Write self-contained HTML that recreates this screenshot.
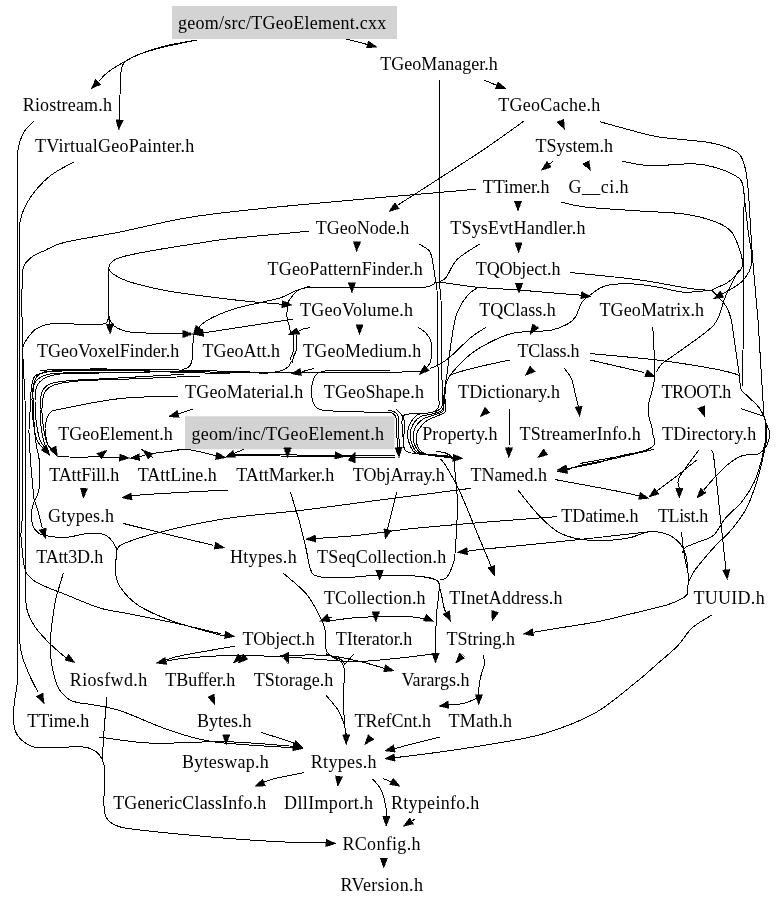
<!DOCTYPE html><html><head><meta charset="utf-8"><style>html,body{margin:0;padding:0;background:#fff;}svg{display:block;filter:grayscale(1);}text{font-family:"Liberation Serif",serif;font-size:18px;fill:#000;}</style></head><body>
<svg width="779" height="907" viewBox="0 0 779 907">
<rect x="172" y="6" width="225" height="33" fill="#d3d3d3"/>
<rect x="185" y="416.25" width="209.5" height="33" fill="#d3d3d3"/>
<g fill="none" stroke="#000" stroke-width="1" shape-rendering="crispEdges"><path d="M197,40 C191.67,41.00 174.50,43.67 165,46 C155.50,48.33 146.83,51.33 140,54 C133.17,56.67 129.33,59.00 124,62 C118.67,65.00 112.17,68.83 108,72 C103.83,75.17 100.50,79.50 99,81"/><path d="M197,40 C190.83,41.33 170.33,45.33 160,48 C149.67,50.67 141.00,53.50 135,56 C129.00,58.50 126.33,60.33 124,63 C121.67,65.67 121.67,66.67 121,72 C120.33,77.33 120.25,87.00 120,95 C119.75,103.00 119.58,115.83 119.5,120"/><path d="M346,39 L367.5,44.5"/><path d="M484,80 L495.7,84.9"/><path d="M524,121 C516.67,126.17 501.00,138.00 480,152 C459.00,166.00 411.67,196.17 398,205"/><path d="M439.3,80 L439.3,282"/><path d="M553,161.5 L549.4,164"/><path d="M475.5,189.3 C446.25,191.88 346.75,200.27 300,204.8 C253.25,209.33 225.00,211.97 195,216.5 C165.00,221.03 141.75,227.68 120,232 C98.25,236.32 77.18,239.25 64.5,242.4 C51.82,245.55 49.37,248.47 43.9,250.9 C38.43,253.33 35.15,254.17 31.7,257 C28.25,259.83 24.82,262.40 23.2,267.9 C21.58,273.40 22.18,279.65 22,290 C21.82,300.35 22.05,319.17 22.1,330 C22.15,340.83 22.23,343.33 22.3,355 C22.37,366.67 22.45,385.83 22.5,400 C22.55,414.17 22.55,426.67 22.6,440 C22.65,453.33 22.80,468.33 22.8,480 C22.80,491.67 22.82,502.00 22.6,510 C22.38,518.00 21.80,523.83 21.5,528 C21.20,532.17 20.92,533.83 20.8,535"/><path d="M561,202 C565.00,202.83 571.83,205.50 585,207 C598.17,208.50 623.50,209.83 640,211 C656.50,212.17 671.33,212.17 684,214 C696.67,215.83 708.00,218.92 716,222 C724.00,225.08 727.90,227.33 732,232.5 C736.10,237.67 738.85,247.42 740.6,253 C742.35,258.58 743.13,262.50 742.5,266 C741.87,269.50 739.15,271.33 736.8,274 C734.45,276.67 732.45,279.40 728.4,282 C724.35,284.60 715.15,288.33 712.5,289.6"/><path d="M600,121.75 C605.00,123.12 620.17,127.46 630,130 C639.83,132.54 645.83,134.92 659,137 C672.17,139.08 696.67,140.33 709,142.5 C721.33,144.67 727.42,147.18 733,150 C738.58,152.82 740.05,153.73 742.5,159.4 C744.95,165.07 746.12,168.90 747.7,184 C749.28,199.10 750.28,227.33 752,250 C753.72,272.67 757.00,308.33 758,320"/><path d="M622,161.25 C626.67,162.00 639.60,165.29 650,165.75 C660.40,166.21 675.23,164.12 684.4,164 C693.57,163.88 696.90,163.27 705,165 C713.10,166.73 726.60,170.65 733,174.4 C739.40,178.15 741.63,178.23 743.4,187.5 C745.17,196.77 743.53,207.92 743.6,230 C743.67,252.08 743.77,305.00 743.8,320"/><path d="M743.4,187.5 C744.17,194.58 746.60,217.58 748,230 C749.40,242.42 752.72,253.50 751.8,262 C750.88,270.50 747.50,275.62 742.5,281 C737.50,286.38 725.25,292.08 721.8,294.3"/><path d="M34,121 C32.33,122.83 26.67,127.17 24,132 C21.33,136.83 19.08,142.83 18,150 C16.92,157.17 17.58,150.00 17.5,175 C17.42,200.00 17.50,279.17 17.5,300"/><path d="M74,162 C70.00,164.33 57.33,170.00 50,176 C42.67,182.00 35.00,190.33 30,198 C25.00,205.67 21.79,211.67 20,222 C18.21,232.33 19.38,247.00 19.25,260 C19.12,273.00 19.25,293.33 19.25,300"/><path d="M308.75,231.25 C295.62,232.49 248.96,236.62 230,238.7 C211.04,240.78 208.33,241.70 195,243.75 C181.67,245.80 162.50,248.71 150,251 C137.50,253.29 126.50,255.50 120,257.5 C113.50,259.50 112.85,261.17 111,263 C109.15,264.83 108.57,266.67 108.9,268.5 C109.23,270.33 109.48,271.75 113,274 C116.52,276.25 120.50,279.12 130,282 C139.50,284.88 153.33,288.40 170,291.3 C186.67,294.20 214.67,297.52 230,299.4 C245.33,301.28 253.17,301.78 262,302.6 C270.83,303.42 279.50,304.02 283,304.3"/><path d="M108.9,268.5 C108.80,272.08 108.40,282.75 108.3,290 C108.20,297.25 108.10,306.33 108.3,312 C108.50,317.67 109.30,322.00 109.5,324"/><path d="M108.5,314 C108.92,315.33 109.58,319.67 111,322 C112.42,324.33 113.83,326.33 117,328 C120.17,329.67 122.83,331.08 130,332 C137.17,332.92 151.00,333.17 160,333.5 C169.00,333.83 180.00,333.92 184,334"/><path d="M108.6,316 C108.17,317.17 108.27,321.57 106,323 C103.73,324.43 101.83,324.48 95,324.6 C88.17,324.72 72.32,323.85 65,323.7 C57.68,323.55 55.83,322.88 51.1,323.7 C46.37,324.52 40.42,326.33 36.6,328.6 C32.78,330.87 30.42,334.43 28.2,337.3 C25.98,340.17 24.18,343.02 23.3,345.8 C22.42,348.58 22.87,349.97 22.9,354 C22.93,358.03 23.15,362.33 23.5,370 C23.85,377.67 24.67,388.33 25,400 C25.33,411.67 25.38,426.67 25.5,440 C25.62,453.33 25.67,463.33 25.7,480 C25.73,496.67 25.68,525.00 25.7,540 C25.72,555.00 25.80,560.00 25.8,570 C25.80,580.00 25.38,592.95 25.7,600 C26.02,607.05 26.17,607.85 27.7,612.3 C29.23,616.75 31.30,621.57 34.9,626.7 C38.50,631.83 44.12,637.88 49.3,643.1 C54.48,648.32 63.22,655.52 66,658"/><path d="M419.3,244.1 C421.00,245.28 427.27,248.22 429.5,251.2 C431.73,254.18 431.73,257.37 432.7,262 C433.67,266.63 434.58,274.33 435.3,279 C436.02,283.67 436.65,279.83 437,290 C437.35,300.17 437.25,328.33 437.4,340 C437.55,351.67 437.72,350.83 437.9,360 C438.08,369.17 438.40,389.17 438.5,395"/><path d="M479.6,244.1 C475.85,246.67 462.67,253.93 457.1,259.5 C451.53,265.07 449.05,273.58 446.2,277.5 C443.35,281.42 440.87,279.25 440,283 C439.13,286.75 440.72,290.50 441,300 C441.28,309.50 441.53,326.67 441.7,340 C441.87,353.33 441.87,370.33 442,380 C442.13,389.67 442.42,395.00 442.5,398"/><path d="M306,287 C315.00,287.13 341.00,287.70 360,287.8 C379.00,287.90 407.83,288.15 420,287.6 C432.17,287.05 429.77,285.38 433,284.5 C436.23,283.62 432.07,281.85 439.4,282.3 C446.73,282.75 463.90,285.92 477,287.2 C490.10,288.48 504.17,288.95 518,290 C531.83,291.05 549.50,292.63 560,293.5 C570.50,294.37 577.50,294.92 581,295.2"/><path d="M310,286.5 C307.57,287.25 300.23,289.15 295.4,291 C290.57,292.85 286.57,295.73 281,297.6 C275.43,299.47 270.02,300.25 262,302.2 C253.98,304.15 242.23,306.17 232.9,309.3 C223.57,312.43 212.15,317.38 206,321 C199.85,324.62 197.67,329.33 196,331"/><path d="M308,286.6 C306.27,287.25 300.27,288.85 297.6,290.5 C294.93,292.15 293.67,294.38 292,296.5 C290.33,298.62 288.42,300.95 287.6,303.2 C286.78,305.45 287.18,307.43 287.1,310 C287.02,312.57 286.73,315.88 287.1,318.6 C287.47,321.32 288.75,323.90 289.3,326.3 C289.85,328.70 290.22,331.88 290.4,333"/><path d="M292.6,319.2 L200,333.4"/><path d="M293.5,335 C293.52,337.50 294.02,346.33 293.6,350 C293.18,353.67 291.47,354.88 291,357 C290.53,359.12 291.55,360.83 290.8,362.7 C290.05,364.57 288.50,366.73 286.5,368.2 C284.50,369.67 281.88,370.77 278.8,371.5 C275.72,372.23 269.80,372.42 268,372.6"/><path d="M296.3,335 C296.28,337.50 296.68,346.33 296.2,350 C295.72,353.67 294.02,354.83 293.4,357 C292.78,359.17 292.65,362.00 292.5,363"/><path d="M299.2,330.8 C300.00,330.47 302.12,329.35 304,328.8 C305.88,328.25 309.42,327.72 310.5,327.5"/><path d="M418.4,327.5 C419.58,328.35 423.45,330.38 425.5,332.6 C427.55,334.82 429.67,337.73 430.7,340.8 C431.73,343.87 431.70,347.63 431.7,351 C431.70,354.37 431.40,358.33 430.7,361 C430.00,363.67 428.03,366.00 427.5,367"/><path d="M486.2,327.2 C483.63,328.92 476.45,332.87 470.8,337.5 C465.15,342.13 457.43,350.55 452.3,355 C447.17,359.45 443.77,361.95 440,364.2 C436.23,366.45 431.42,367.78 429.7,368.5"/><path d="M268,372.6 C271.67,372.50 276.07,372.00 290,372 C303.93,372.00 331.07,372.63 351.6,372.6 C372.13,372.57 401.63,372.07 413.2,371.8 C424.77,371.53 419.70,371.13 421,371"/><path d="M40,370.2 C48.33,370.00 71.67,369.12 90,369 C108.33,368.88 131.67,369.25 150,369.5 C168.33,369.75 180.33,369.98 200,370.5 C219.67,371.02 256.67,372.25 268,372.6"/><path d="M44,371.5 C51.67,371.33 72.33,370.58 90,370.5 C107.67,370.42 131.67,370.78 150,371 C168.33,371.22 180.33,371.43 200,371.8 C219.67,372.17 256.67,372.97 268,373.2"/><path d="M313.6,368.5 L302.3,371.6"/><path d="M390,370 C381.67,370.03 350.83,370.03 340,370.2 C329.17,370.37 328.88,370.37 325,371 C321.12,371.63 318.77,372.17 316.7,374 C314.63,375.83 313.45,379.00 312.6,382 C311.75,385.00 311.53,388.67 311.6,392 C311.67,395.33 311.60,399.08 313,402 C314.40,404.92 314.67,407.92 320,409.5 C325.33,411.08 333.33,411.00 345,411.5 C356.67,412.00 382.50,412.33 390,412.5"/><path d="M478,287.2 C476.12,288.73 470.30,291.77 466.7,296.4 C463.10,301.03 458.97,307.47 456.4,315 C453.83,322.53 452.83,332.03 451.3,341.6 C449.77,351.17 448.23,364.87 447.2,372.4 C446.17,379.93 445.62,381.67 445.1,386.8 C444.58,391.93 444.27,400.47 444.1,403.2"/><path d="M509.8,360 C505.00,361.05 490.23,364.05 481,366.3 C471.77,368.55 459.87,371.45 454.4,373.5 C448.93,375.55 449.75,376.38 448.2,378.6 C446.65,380.82 445.88,383.23 445.1,386.8 C444.32,390.37 443.77,397.80 443.5,400"/><path d="M712,290 C707.33,290.37 692.67,292.62 684,292.2 C675.33,291.78 668.33,288.87 660,287.5 C651.67,286.13 642.92,284.33 634,284 C625.08,283.67 613.83,283.67 606.5,285.5 C599.17,287.33 594.13,292.15 590,295 C585.87,297.85 584.12,298.93 581.7,302.6 C579.28,306.27 577.90,313.40 575.5,317 C573.10,320.60 571.38,321.98 567.3,324.2 C563.22,326.42 556.47,329.12 551,330.3 C545.53,331.48 541.02,330.78 534.5,331.3 C527.98,331.82 519.10,331.68 511.9,333.4 C504.70,335.12 498.15,338.17 491.3,341.6 C484.45,345.03 477.30,348.87 470.8,354 C464.30,359.13 456.40,367.62 452.3,372.4 C448.20,377.18 447.45,378.43 446.2,382.7 C444.95,386.97 445.03,395.45 444.8,398"/><path d="M570,272.5 C572.50,272.75 573.33,272.75 585,274 C596.67,275.25 622.50,277.58 640,280 C657.50,282.42 678.00,286.75 690,288.5 C702.00,290.25 708.33,290.17 712,290.5"/><path d="M564.3,368.3 C565.48,370.02 569.53,374.15 571.4,378.6 C573.27,383.05 574.33,390.27 575.5,395 C576.67,399.73 577.92,405.00 578.4,407"/><path d="M509.4,409.4 L509,448"/><path d="M590.2,353.6 C601.27,354.67 637.02,357.65 656.6,360 C676.18,362.35 694.50,365.35 707.7,367.7 C720.90,370.05 730.48,372.18 735.8,374.1 C741.12,376.02 738.73,376.65 739.6,379.2 C740.47,381.75 739.50,386.43 741,389.4 C742.50,392.37 745.63,394.02 748.6,397 C751.57,399.98 756.25,404.10 758.8,407.3 C761.35,410.50 763.05,414.72 763.9,416.2"/><path d="M590.2,360 L643.9,372.4"/><path d="M738.7,270 C736.52,274.37 729.05,288.20 725.6,296.2 C722.15,304.20 720.98,312.25 718,318 C715.02,323.75 714.95,324.55 707.7,330.7 C700.45,336.85 682.17,349.37 674.5,354.9 C666.83,360.43 664.70,361.05 661.7,363.9 C658.70,366.75 657.37,370.65 656.5,372"/><path d="M712,290.5 C714.27,293.00 722.40,300.58 725.6,305.5 C728.80,310.42 729.50,312.42 731.2,320 C732.90,327.58 734.40,341.57 735.8,351 C737.20,360.43 738.97,372.33 739.6,376.6"/><path d="M652.8,326.8 C653.10,335.10 655.23,364.03 654.6,376.6 C653.97,389.17 650.02,395.80 649,402.2 C647.98,408.60 647.87,409.90 648.5,415 C649.13,420.10 652.93,427.07 652.8,432.8 C652.67,438.53 659.83,444.28 647.7,449.4 C635.57,454.52 591.28,461.15 580,463.5"/><path d="M740.9,408.6 L763.9,416.2"/><path d="M743.8,320 L742,386.8"/><path d="M758,320 L763.9,415"/><path d="M764.2,416.5 C764.57,417.75 765.48,421.27 766.4,424 C767.32,426.73 769.52,429.58 769.7,432.9 C769.88,436.22 768.42,441.33 767.5,443.9 C766.58,446.47 764.75,447.57 764.2,448.3"/><path d="M764.2,416.5 C764.43,417.75 765.40,419.98 765.6,424 C765.80,428.02 765.75,436.27 765.4,440.6 C765.05,444.93 763.82,448.43 763.5,450"/><path d="M193.5,336 C193.33,338.33 192.80,345.67 192.5,350 C192.20,354.33 192.45,359.08 191.7,362 C190.95,364.92 189.62,366.25 188,367.5 C186.38,368.75 183.00,369.17 182,369.5"/><path d="M184,374.3 C171.17,375.02 126.25,377.53 107,378.6 C87.75,379.67 78.00,379.80 68.5,380.7 C59.00,381.60 54.42,382.12 50,384 C45.58,385.88 43.67,387.67 42,392 C40.33,396.33 40.08,403.67 40,410 C39.92,416.33 40.67,424.17 41.5,430 C42.33,435.83 43.75,441.50 45,445 C46.25,448.50 48.33,450.00 49,451"/><path d="M200,376 C186.65,376.57 139.68,378.62 119.9,379.4 C100.12,380.18 92.00,379.85 81.3,380.7 C70.60,381.55 61.75,382.62 55.7,384.5 C49.65,386.38 47.28,388.08 45,392 C42.72,395.92 42.25,402.00 42,408 C41.75,414.00 42.67,422.17 43.5,428 C44.33,433.83 45.58,439.33 47,443 C48.42,446.67 51.17,448.83 52,450"/><path d="M230,373.5 C222.33,373.33 204.50,373.12 184,372.5 C163.50,371.88 127.55,370.18 107,369.8 C86.45,369.42 71.37,369.72 60.7,370.2 C50.03,370.68 47.33,371.65 43,372.7 C38.67,373.75 36.62,374.17 34.7,376.5 C32.78,378.83 32.20,381.95 31.5,386.7 C30.80,391.45 30.92,397.78 30.5,405 C30.08,412.22 29.08,422.00 29,430 C28.92,438.00 29.62,446.33 30,453 C30.38,459.67 30.83,464.42 31.3,470 C31.77,475.58 32.35,481.68 32.8,486.5 C33.25,491.32 33.12,494.77 34,498.9 C34.88,503.03 36.72,506.47 38.1,511.3 C39.48,516.13 41.60,525.13 42.3,527.9"/><path d="M150,371 C140.00,370.92 105.83,370.50 90,370.5 C74.17,370.50 63.33,370.42 55,371 C46.67,371.58 43.33,372.50 40,374 C36.67,375.50 36.17,377.00 35,380 C33.83,383.00 33.25,387.00 33,392 C32.75,397.00 33.25,403.67 33.5,410 C33.75,416.33 34.00,423.92 34.5,430 C35.00,436.08 35.85,442.33 36.5,446.5 C37.15,450.67 37.92,452.25 38.4,455 C38.88,457.75 39.23,457.83 39.4,463 C39.57,468.17 39.75,480.67 39.4,486 C39.05,491.33 38.37,491.83 37.3,495 C36.23,498.17 34.03,501.58 33,505 C31.97,508.42 31.07,511.97 31.1,515.5 C31.13,519.03 32.03,523.32 33.2,526.2 C34.37,529.08 36.32,531.28 38.1,532.8 C39.88,534.32 39.42,534.52 43.9,535.3 C48.38,536.08 57.60,537.83 65,537.5 C72.40,537.17 81.92,533.85 88.3,533.3 C94.68,532.75 99.63,533.28 103.3,534.2 C106.97,535.12 108.28,536.75 110.3,538.8 C112.32,540.85 114.33,544.37 115.4,546.5 C116.47,548.63 116.70,547.32 116.7,551.6 C116.70,555.88 114.77,566.20 115.4,572.2 C116.03,578.20 116.65,582.05 120.5,587.6 C124.35,593.15 129.93,599.95 138.5,605.5 C147.07,611.05 159.07,616.18 171.9,620.9 C184.73,625.62 206.65,631.37 215.5,633.8 C224.35,636.23 223.42,635.22 225,635.5"/><path d="M150,372 C138.33,372.08 96.67,372.17 80,372.5 C63.33,372.83 57.00,372.92 50,374 C43.00,375.08 40.83,376.67 38,379 C35.17,381.33 34.00,384.50 33,388 C32.00,391.50 32.00,394.67 32,400 C32.00,405.33 32.17,413.33 33,420 C33.83,426.67 35.17,435.17 37,440 C38.83,444.83 42.83,447.50 44,449"/><path d="M100,373 C93.33,373.17 69.17,373.17 60,374 C50.83,374.83 48.83,376.00 45,378 C41.17,380.00 38.67,382.33 37,386 C35.33,389.67 35.17,394.33 35,400 C34.83,405.67 35.17,413.33 36,420 C36.83,426.67 38.33,435.17 40,440 C41.67,444.83 45.00,447.50 46,449"/><path d="M177.6,396.1 C167.98,396.52 139.37,396.45 119.9,398.6 C100.43,400.75 72.45,406.60 60.8,409 C49.15,411.40 52.57,410.50 50,413 C47.43,415.50 46.17,420.50 45.4,424 C44.63,427.50 44.97,430.52 45.4,434 C45.83,437.48 46.73,442.07 48,444.9 C49.27,447.73 52.17,449.98 53,451"/><path d="M193,409 L176,414.6"/><path d="M58,456 C59.80,456.17 61.92,456.83 68.8,457 C75.68,457.17 90.77,456.92 99.3,457 C107.83,457.08 116.55,457.42 120,457.5"/><path d="M185.4,449.2 C181.17,449.75 166.27,451.65 160,452.5 C153.73,453.35 151.33,453.55 147.8,454.3 C144.27,455.05 140.30,456.55 138.8,457"/><path d="M141,449 C142.00,449.67 145.00,451.50 147,453 C149.00,454.50 152.00,457.17 153,458"/><path d="M170,451.3 C172.57,450.95 179.57,448.92 185.4,449.2 C191.23,449.48 199.73,451.87 205,453 C210.27,454.13 215.00,455.50 217,456"/><path d="M244,449.2 L233.7,453.5"/><path d="M231.6,454.4 C239.67,454.47 263.60,454.63 280,454.8 C296.40,454.97 317.50,455.28 330,455.4 C342.50,455.52 344.17,455.40 355,455.5 C365.83,455.60 388.33,455.92 395,456"/><path d="M231.6,455.6 C239.67,455.67 263.60,455.80 280,456 C296.40,456.20 317.50,456.63 330,456.8 C342.50,456.97 344.17,456.93 355,457 C365.83,457.07 388.33,457.17 395,457.2"/><path d="M390,412.5 C390.20,412.52 390.32,412.07 391.2,412.6 C392.08,413.13 394.45,414.33 395.3,415.7 C396.15,417.07 396.05,418.25 396.3,420.8 C396.55,423.35 396.63,426.47 396.8,431 C396.97,435.53 397.22,445.17 397.3,448"/><path d="M388,410.5 C388.83,410.62 391.42,410.50 393,411.2 C394.58,411.90 396.58,413.10 397.5,414.7 C398.42,416.30 398.28,418.08 398.5,420.8 C398.72,423.52 398.67,426.47 398.8,431 C398.93,435.53 399.22,445.17 399.3,448"/><path d="M396.3,409 C397.15,409.93 400.12,412.77 401.4,414.6 C402.68,416.43 403.48,417.77 404,420 C404.52,422.23 404.58,424.83 404.5,428 C404.42,431.17 403.75,435.58 403.5,439 C403.25,442.42 403.08,446.92 403,448.5"/><path d="M438.5,395 C438.58,396.67 439.42,402.42 439,405 C438.58,407.58 437.30,409.23 436,410.5 C434.70,411.77 434.05,412.08 431.2,412.6 C428.35,413.12 422.83,413.35 418.9,413.6 C414.97,413.85 410.17,413.75 407.6,414.1 C405.03,414.45 404.43,414.58 403.5,415.7 C402.57,416.82 402.17,418.25 402,420.8 C401.83,423.35 402.25,427.58 402.5,431 C402.75,434.42 403.17,438.30 403.5,441.3 C403.83,444.30 403.75,447.22 404.5,449 C405.25,450.78 406.12,451.22 408,452 C409.88,452.78 411.93,453.25 415.8,453.7 C419.67,454.15 426.07,454.37 431.2,454.7 C436.33,455.03 442.97,455.23 446.6,455.7 C450.23,456.17 451.93,457.20 453,457.5"/><path d="M442.5,398 C442.42,399.33 442.75,403.92 442,406 C441.25,408.08 440.33,409.33 438,410.5 C435.67,411.67 431.35,412.32 428,413 C424.65,413.68 420.62,413.30 417.9,414.6 C415.18,415.90 413.33,418.40 411.7,420.8 C410.07,423.20 408.78,426.43 408.1,429 C407.42,431.57 407.35,433.63 407.6,436.2 C407.85,438.77 408.58,441.83 409.6,444.4 C410.62,446.97 411.97,450.00 413.7,451.6 C415.43,453.20 415.62,453.35 420,454 C424.38,454.65 434.50,454.90 440,455.5 C445.50,456.10 450.83,457.25 453,457.6"/><path d="M444.1,403.2 C443.92,404.00 443.68,406.62 443,408 C442.32,409.38 442.17,410.42 440,411.5 C437.83,412.58 433.17,413.67 430,414.5 C426.83,415.33 423.58,415.25 421,416.5 C418.42,417.75 416.20,419.75 414.5,422 C412.80,424.25 411.50,427.50 410.8,430 C410.10,432.50 410.05,434.50 410.3,437 C410.55,439.50 411.27,442.53 412.3,445 C413.33,447.47 414.38,450.25 416.5,451.8 C418.62,453.35 421.08,453.60 425,454.3 C428.92,455.00 435.33,455.38 440,456 C444.67,456.62 450.83,457.67 453,458"/><path d="M443.5,400 C443.58,401.33 444.25,406.00 444,408 C443.75,410.00 443.83,410.75 442,412 C440.17,413.25 436.00,414.42 433,415.5 C430.00,416.58 426.58,417.08 424,418.5 C421.42,419.92 419.25,421.75 417.5,424 C415.75,426.25 414.20,429.50 413.5,432 C412.80,434.50 413.02,436.67 413.3,439 C413.58,441.33 414.17,443.83 415.2,446 C416.23,448.17 417.37,450.50 419.5,452 C421.63,453.50 423.75,454.20 428,455 C432.25,455.80 440.83,456.27 445,456.8 C449.17,457.33 451.67,457.97 453,458.2"/><path d="M444.8,398 C445.00,399.67 446.05,405.58 446,408 C445.95,410.42 446.17,411.08 444.5,412.5 C442.83,413.92 438.92,415.17 436,416.5 C433.08,417.83 429.58,418.75 427,420.5 C424.42,422.25 422.25,424.75 420.5,427 C418.75,429.25 417.20,431.67 416.5,434 C415.80,436.33 416.02,438.75 416.3,441 C416.58,443.25 417.17,445.58 418.2,447.5 C419.23,449.42 420.20,451.17 422.5,452.5 C424.80,453.83 427.75,454.67 432,455.5 C436.25,456.33 444.50,457.03 448,457.5 C451.50,457.97 452.17,458.17 453,458.3"/><path d="M436.3,451.6 C437.67,451.77 441.88,451.78 444.5,452.6 C447.12,453.42 450.75,455.85 452,456.5"/><path d="M440.4,458.8 C441.33,460.00 442.73,460.47 446,466 C449.27,471.53 454.67,480.50 460,492 C465.33,503.50 472.83,522.67 478,535 C483.17,547.33 488.83,560.83 491,566"/><path d="M454.8,459.8 L454.8,470"/><path d="M17.5,300 C17.50,333.33 17.50,440.00 17.5,500 C17.50,560.00 17.53,629.67 17.5,660 C17.47,690.33 17.82,674.88 17.3,682 C16.78,689.12 15.07,696.53 14.4,702.7 C13.73,708.87 12.97,713.87 13.3,719 C13.63,724.13 14.17,729.37 16.4,733.5 C18.63,737.63 22.60,741.40 26.7,743.8 C30.80,746.20 31.75,747.38 41,747.9 C50.25,748.42 72.95,746.22 82.2,746.9 C91.45,747.58 93.15,749.82 96.5,752 C99.85,754.18 100.93,757.00 102.3,760 C103.67,763.00 104.33,765.00 104.7,770 C105.07,775.00 104.63,784.97 104.5,790 C104.37,795.03 103.75,795.93 103.9,800.2 C104.05,804.47 103.62,811.50 105.4,815.6 C107.18,819.70 109.47,822.48 114.6,824.8 C119.73,827.12 119.77,827.43 136.2,829.5 C152.63,831.57 189.23,835.15 213.2,837.2 C237.17,839.25 261.20,840.83 280,841.8 C298.80,842.77 318.33,842.80 326,843"/><path d="M19.25,300 C19.26,333.33 19.28,446.67 19.3,500 C19.32,553.33 19.35,596.50 19.4,620 C19.45,643.50 19.07,634.75 19.6,641 C20.13,647.25 20.73,651.33 22.6,657.5 C24.47,663.67 28.23,672.25 30.8,678 C33.37,683.75 36.80,689.67 38,692"/><path d="M20.8,535 C21.22,539.17 22.32,553.62 23.3,560 C24.28,566.38 24.20,569.42 26.7,573.3 C29.20,577.18 31.63,579.68 38.3,583.3 C44.97,586.92 56.42,590.87 66.7,595 C76.98,599.13 90.17,605.07 100,608.1 C109.83,611.13 112.87,610.63 125.7,613.2 C138.53,615.77 161.17,620.07 177,623.5 C192.83,626.93 213.42,632.08 220.7,633.8"/><path d="M465,489 C464.77,489.05 477.77,487.47 463.6,489.3 C449.43,491.13 407.27,496.47 380,500 C352.73,503.53 325.27,507.47 300,510.5 C274.73,513.53 251.03,514.77 228.4,518.2 C205.77,521.63 181.75,526.82 164.2,531.1 C146.65,535.38 131.02,540.48 123.1,543.9 C115.18,547.32 117.77,550.32 116.7,551.6"/><path d="M228.4,490 C220.33,490.42 194.98,491.65 180,492.5 C165.02,493.35 146.67,494.43 138.5,495.1 C130.33,495.77 132.25,496.27 131,496.5"/><path d="M123.1,523.4 C129.95,525.10 149.22,529.97 164.2,533.6 C179.18,537.23 204.87,543.27 213,545.2"/><path d="M63.3,573.3 C62.47,576.08 59.60,585.55 58.3,590 C57.00,594.45 56.48,594.92 55.5,600 C54.52,605.08 53.27,613.67 52.4,620.5 C51.53,627.33 50.48,634.15 50.3,641 C50.12,647.85 50.10,654.05 51.3,661.6 C52.50,669.15 54.75,680.13 57.5,686.3 C60.25,692.47 64.38,695.87 67.8,698.6 C71.22,701.33 73.90,701.68 78,702.7 C82.10,703.72 85.27,703.33 92.4,704.7 C99.53,706.07 108.37,706.80 120.8,710.9 C133.23,715.00 151.60,724.17 167,729.3 C182.40,734.43 192.15,738.62 213.2,741.7 C234.25,744.78 279.95,746.78 293.3,747.8"/><path d="M290.3,491.8 C291.80,496.72 296.73,512.10 299.3,521.3 C301.87,530.50 303.78,538.87 305.7,547 C307.62,555.13 308.67,565.18 310.8,570.1 C312.93,575.02 312.93,575.22 318.5,576.5 C324.07,577.78 334.35,578.00 344.2,577.8 C354.05,577.60 364.77,575.52 377.6,575.3 C390.43,575.08 411.37,575.65 421.2,576.5 C431.03,577.35 433.60,578.47 436.6,580.4 C439.60,582.33 439.20,582.53 439.2,588.1 C439.20,593.67 437.20,605.15 436.6,613.8 C436.00,622.45 435.78,633.47 435.6,640 C435.42,646.53 435.52,650.83 435.5,653"/><path d="M421.2,576.5 C423.77,577.15 433.38,578.03 436.6,580.4 C439.82,582.77 439.22,586.00 440.5,590.7 C441.78,595.40 443.30,604.97 444.3,608.6 C445.30,612.23 446.13,611.85 446.5,612.5"/><path d="M454.8,470 C455.23,475.58 457.33,489.93 457.4,503.5 C457.47,517.07 455.93,541.25 455.2,551.4 C454.47,561.55 454.45,560.05 453,564.4 C451.55,568.75 448.67,574.95 446.5,577.5 C444.33,580.05 441.08,579.33 440,579.7"/><path d="M396.8,491.8 L387.2,530"/><path d="M557.5,516.6 C544.58,517.60 504.85,520.53 480,522.6 C455.15,524.67 428.90,526.85 408.4,529 C387.90,531.15 372.48,533.92 357,535.5 C341.52,537.08 322.42,538.00 315.5,538.5"/><path d="M648.9,531.8 C635.83,533.25 598.07,537.60 570.5,540.5 C542.93,543.40 500.75,547.37 483.5,549.2 C466.25,551.03 469.75,551.12 467,551.5"/><path d="M332,617 L328,618.5"/><path d="M326.2,621.5 C331.33,620.85 344.17,618.47 357,617.6 C369.83,616.73 391.65,616.08 403.2,616.3 C414.75,616.52 422.45,618.47 426.3,618.9"/><path d="M282.6,572.7 C286.45,576.12 299.72,586.35 305.7,593.2 C311.68,600.05 315.30,607.80 318.5,613.8 C321.70,619.80 323.62,623.22 324.9,629.2 C326.18,635.18 325.13,645.22 326.2,649.7 C327.27,654.18 328.83,654.05 331.3,656.1 C333.77,658.15 338.77,659.55 341,662 C343.23,664.45 344.33,665.22 344.7,670.8 C345.07,676.38 343.20,686.47 343.2,695.5 C343.20,704.53 344.23,718.42 344.7,725 C345.17,731.58 345.78,733.33 346,735"/><path d="M280,655.4 C287.70,655.40 312.85,654.37 326.2,655.4 C339.55,656.43 350.30,659.42 360.1,661.6 C369.90,663.78 380.85,667.35 385,668.5"/><path d="M434,653.9 C428.33,654.58 412.83,656.72 400,658 C387.17,659.28 370.33,661.35 357,661.6 C343.67,661.85 331.63,660.27 320,659.5 C308.37,658.73 301.92,657.68 287.2,657 C272.48,656.32 249.17,655.15 231.7,655.4 C214.23,655.65 193.52,657.48 182.4,658.5 C171.28,659.52 167.90,661.00 165,661.5"/><path d="M234.8,646.2 C226.07,647.73 193.87,653.10 182.4,655.4 C170.93,657.70 168.73,659.23 166,660"/><path d="M353.9,653.9 L344.7,664.6"/><path d="M326.2,653.9 C328.77,654.92 338.52,658.22 341.6,660 C344.68,661.78 344.18,663.83 344.7,664.6"/><path d="M555.3,479.6 C565.08,481.42 599.97,487.77 614,490.5 C628.03,493.23 635.25,495.08 639.5,496"/><path d="M654,449.4 C648.33,450.50 629.17,453.82 620,456 C610.83,458.18 608.00,460.33 599,462.5 C590.00,464.67 571.50,467.92 566,469"/><path d="M649,450.5 C642.50,452.00 621.50,457.00 610,459.5 C598.50,462.00 587.33,463.67 580,465.5 C572.67,467.33 568.33,469.67 566,470.5"/><path d="M699,450 C695.72,454.57 682.58,471.07 679.3,477.4 C676.02,483.73 679.30,486.23 679.3,488"/><path d="M696.7,460 C693.08,462.90 681.62,472.23 675,477.4 C668.38,482.57 660.00,488.73 657,491"/><path d="M763.5,450 C762.52,450.68 761.22,453.12 757.6,454.1 C753.98,455.08 746.80,454.13 741.8,455.9 C736.80,457.67 732.60,460.58 727.6,464.7 C722.60,468.82 715.82,476.30 711.8,480.6 C707.78,484.90 704.88,488.85 703.5,490.5"/><path d="M711.5,450 C711.93,451.67 712.57,448.18 714.1,460 C715.63,471.82 718.72,502.57 720.7,520.9 C722.68,539.23 725.12,561.82 726,570"/><path d="M764.7,443.5 C764.12,446.45 762.97,454.72 761.2,461.2 C759.43,467.68 757.33,475.63 754.1,482.4 C750.87,489.17 746.50,495.93 741.8,501.8 C737.10,507.67 730.62,512.02 725.9,517.6 C721.18,523.18 718.22,531.18 713.5,535.3 C708.78,539.42 702.30,540.25 697.6,542.3 C692.90,544.35 687.80,545.83 685.3,547.6 C682.80,549.37 683.05,552.02 682.6,552.9"/><path d="M766.2,424 C766.25,426.67 767.05,434.40 766.5,440 C765.95,445.60 764.38,451.13 762.9,457.6 C761.42,464.07 760.23,470.55 757.6,478.8 C754.97,487.05 751.50,498.57 747.1,507.1 C742.70,515.63 736.50,523.53 731.2,530 C725.90,536.47 721.18,539.43 715.3,545.9 C709.42,552.37 700.32,562.92 695.9,568.8 C691.48,574.68 689.98,579.13 688.8,581.2"/><path d="M518.3,490.5 C521.92,494.85 532.75,509.35 540,516.6 C547.25,523.85 553.08,530.02 561.8,534 C570.52,537.98 581.42,539.78 592.3,540.5 C603.18,541.22 617.67,539.75 627.1,538.3 C636.53,536.85 642.37,532.52 648.9,531.8 C655.43,531.08 661.23,532.18 666.3,534 C671.37,535.82 676.03,539.08 679.3,542.7 C682.57,546.32 684.45,550.63 685.9,555.7 C687.35,560.77 687.65,568.22 688,573.1 C688.35,577.98 688.13,581.48 688,585 C687.87,588.52 688.33,591.87 687.2,594.2 C686.07,596.53 684.57,597.22 681.2,599 C677.83,600.78 674.92,602.53 667,604.9 C659.08,607.27 645.18,610.42 633.7,613.2 C622.22,615.98 609.97,619.22 598.1,621.6 C586.23,623.98 573.18,625.73 562.5,627.5 C551.82,629.27 538.75,631.42 534,632.2"/><path d="M681.5,531.8 C681.87,535.07 682.62,544.52 683.7,551.4 C684.78,558.28 687.28,569.48 688,573.1"/><path d="M712,615 C708.67,617.17 697.75,622.83 692,628 C686.25,633.17 683.50,639.83 677.5,646 C671.50,652.17 662.87,659.00 656,665 C649.13,671.00 646.47,674.00 636.3,682 C626.13,690.00 610.45,704.38 595,713 C579.55,721.62 560.77,728.53 543.6,733.7 C526.43,738.87 509.27,740.95 492,744 C474.73,747.05 456.33,749.70 440,752 C423.67,754.30 401.67,756.83 394,757.8"/><path d="M483.3,655.4 C483.50,656.83 484.88,660.65 484.5,664 C484.12,667.35 481.92,671.67 481,675.5 C480.08,679.33 479.33,683.75 479,687 C478.67,690.25 479.00,693.67 479,695"/><path d="M478.7,697 C476.38,698.03 469.92,701.90 464.8,703.2 C459.68,704.50 450.80,704.53 448,704.8"/><path d="M440.2,737 C435.07,738.28 417.10,742.73 409.4,744.7 C401.70,746.67 396.57,748.12 394,748.8"/><path d="M326.2,695.5 C328.25,698.07 335.42,705.77 338.5,710.9 C341.58,716.03 343.42,722.28 344.7,726.3 C345.98,730.32 345.95,733.55 346.2,735"/><path d="M106.9,697 C106.40,702.90 104.67,721.90 103.9,732.4 C103.13,742.90 102.57,755.40 102.3,760"/><path d="M99.2,737 C107.93,738.03 130.55,742.42 151.6,743.2 C172.65,743.98 201.88,741.18 225.5,741.7 C249.12,742.22 282.00,745.53 293.3,746.3"/><path d="M261,732.4 C265.87,733.95 284.70,739.85 290.2,741.7 C295.70,743.55 293.37,743.20 294,743.5"/><path d="M304.1,772.5 C299.22,773.52 281.48,777.02 274.8,778.6 C268.12,780.18 265.80,781.43 264,782"/><path d="M372.4,778.6 C373.95,780.67 379.38,785.87 381.7,791 C384.02,796.13 385.53,805.15 386.3,809.4 C387.07,813.65 386.30,815.32 386.3,816.5"/><path d="M383.2,778.6 C384.48,779.12 389.43,781.10 390.9,781.7 C392.37,782.30 391.82,782.12 392,782.2"/><path d="M415.5,818.7 L411,821.5"/></g>
<g fill="#000" stroke="#000" stroke-width="0.5" shape-rendering="crispEdges"><polygon points="91.0,89.0 95.5,79.3 100.7,84.5"/><polygon points="118.8,130.0 115.8,119.8 123.2,120.3"/><polygon points="377.0,47.0 366.4,48.0 368.3,40.9"/><polygon points="506.0,88.5 495.3,88.7 497.8,81.7"/><polygon points="564.7,129.6 557.0,122.2 563.7,119.0"/><polygon points="389.0,211.5 394.9,202.6 399.3,208.6"/><polygon points="541.3,170.4 546.9,161.3 551.4,167.1"/><polygon points="590.5,170.9 582.5,163.9 589.0,160.3"/><polygon points="518.0,211.0 514.3,201.0 521.7,201.0"/><polygon points="713.4,299.0 720.3,290.9 723.9,297.3"/><polygon points="292.0,305.0 281.7,307.9 282.3,300.5"/><polygon points="110.2,334.0 106.1,324.2 113.5,323.9"/><polygon points="192.5,334.0 182.5,337.7 182.5,330.3"/><polygon points="356.6,251.7 353.3,241.6 360.7,241.9"/><polygon points="351.9,292.8 348.2,282.8 355.6,282.8"/><polygon points="591.0,296.5 580.6,298.9 581.6,291.5"/><polygon points="193.0,335.5 195.9,325.2 201.9,329.6"/><polygon points="193.5,334.5 202.7,329.2 204.0,336.5"/><polygon points="359.6,334.6 355.9,324.6 363.3,324.6"/><polygon points="419.4,374.5 424.3,365.0 429.3,370.5"/><polygon points="291.0,373.7 300.2,368.4 301.5,375.6"/><polygon points="530.0,334.5 532.5,324.1 538.6,328.2"/><polygon points="518.6,252.7 514.9,242.7 522.3,242.7"/><polygon points="519.0,293.3 515.3,283.3 522.7,283.3"/><polygon points="525.2,375.5 530.2,366.1 535.1,371.6"/><polygon points="579.7,416.6 574.9,407.1 582.2,406.2"/><polygon points="480.0,416.6 485.0,407.2 489.9,412.7"/><polygon points="508.8,457.7 505.3,447.6 512.7,447.8"/><polygon points="537.6,457.7 543.5,448.8 547.9,454.8"/><polygon points="655.4,376.6 644.7,376.8 647.2,369.8"/><polygon points="704.5,416.5 697.6,408.4 704.5,405.8"/><polygon points="168.6,416.6 177.3,410.4 179.2,417.5"/><polygon points="50.0,455.5 40.9,450.0 46.6,445.4"/><polygon points="57.5,456.5 49.6,449.4 56.1,445.9"/><polygon points="129.5,458.0 119.3,461.2 119.7,453.8"/><polygon points="129.5,458.0 139.1,453.3 139.8,460.6"/><polygon points="107.0,450.0 101.6,459.2 96.9,453.4"/><polygon points="143.0,450.0 153.0,453.7 148.2,459.3"/><polygon points="226.0,457.5 215.5,459.5 216.7,452.2"/><polygon points="225.0,457.5 233.0,450.4 235.7,457.3"/><polygon points="287.5,457.5 283.8,447.5 291.2,447.5"/><polygon points="345.0,456.5 334.7,459.2 335.4,451.8"/><polygon points="355.0,452.0 355.0,462.7 348.0,460.1"/><polygon points="399.0,457.5 394.8,447.7 402.2,447.3"/><polygon points="463.0,458.3 452.8,461.5 453.2,454.1"/><polygon points="494.5,576.0 487.8,567.7 494.8,565.3"/><polygon points="336.0,843.5 325.8,846.7 326.2,839.3"/><polygon points="44.2,703.7 36.4,696.5 43.0,693.1"/><polygon points="75.0,662.6 64.6,660.3 68.6,654.1"/><polygon points="45.6,538.6 39.1,530.1 46.2,528.0"/><polygon points="234.8,636.3 224.4,638.7 225.4,631.3"/><polygon points="83.3,498.3 80.4,488.1 87.7,488.6"/><polygon points="121.8,497.7 131.3,492.8 132.2,500.1"/><polygon points="224.5,547.8 213.9,549.2 215.6,542.0"/><polygon points="435.5,663.1 431.8,653.1 439.2,653.1"/><polygon points="450.7,621.5 443.0,614.1 449.6,610.9"/><polygon points="385.3,539.3 383.9,528.7 391.1,530.4"/><polygon points="305.7,539.3 315.4,534.8 316.0,542.2"/><polygon points="457.4,552.3 467.0,547.6 467.7,555.0"/><polygon points="379.6,580.4 375.9,570.4 383.3,570.4"/><polygon points="319.8,621.5 327.3,614.0 330.4,620.7"/><polygon points="375.8,621.5 372.1,611.5 379.5,611.5"/><polygon points="434.0,621.5 423.4,620.9 426.3,614.1"/><polygon points="394.2,670.8 383.6,671.9 385.4,664.7"/><polygon points="156.2,663.1 165.1,657.3 166.8,664.5"/><polygon points="233.2,663.1 238.1,653.6 243.1,659.1"/><polygon points="238.0,663.1 243.1,653.7 248.0,659.3"/><polygon points="455.6,663.1 459.5,653.2 465.0,658.1"/><polygon points="492.2,621.0 491.6,610.4 498.7,612.6"/><polygon points="648.9,498.3 638.3,499.4 640.1,492.2"/><polygon points="557.0,470.0 566.3,464.8 567.5,472.1"/><polygon points="557.0,471.5 566.3,466.3 567.5,473.6"/><polygon points="679.3,498.3 675.6,488.3 683.0,488.3"/><polygon points="648.9,497.0 654.7,488.1 659.1,494.0"/><polygon points="696.8,498.2 700.5,488.2 706.1,493.0"/><polygon points="727.2,579.7 722.5,570.1 729.9,569.4"/><polygon points="523.3,634.1 532.5,628.7 533.8,636.0"/><polygon points="384.7,758.6 394.2,753.8 395.1,761.2"/><polygon points="478.7,704.7 475.2,694.6 482.6,694.8"/><polygon points="438.7,706.2 448.1,701.1 449.1,708.4"/><polygon points="384.7,750.9 393.5,744.9 395.3,752.1"/><polygon points="364.7,744.7 368.2,734.6 373.9,739.3"/><polygon points="346.2,744.7 342.5,734.7 349.9,734.7"/><polygon points="226.2,744.7 222.5,734.7 229.9,734.7"/><polygon points="303.0,748.0 292.4,746.8 295.7,740.2"/><polygon points="303.0,748.5 292.6,750.9 293.5,743.6"/><polygon points="214.8,704.7 207.6,696.9 214.4,694.0"/><polygon points="254.8,786.3 262.6,779.1 265.5,785.9"/><polygon points="337.6,786.3 335.4,775.9 342.7,776.9"/><polygon points="386.3,826.4 382.6,816.4 390.0,816.4"/><polygon points="400.1,786.3 389.6,784.7 393.2,778.2"/><polygon points="403.2,826.4 409.6,817.8 413.6,824.0"/><polygon points="383.8,868.0 380.1,858.0 387.5,858.0"/><polygon points="288.2,334.8 300.3,334.2 296.2,328"/><polygon points="282.1,655.5 288.7,652.2 288.5,663.7"/></g>
<text x="178.0" y="28.75" textLength="208.18" lengthAdjust="spacing">geom/src/TGeoElement.cxx</text>
<text x="380.25" y="69.75">TGeoManager.h</text>
<text x="22.75" y="110.75" textLength="89.15" lengthAdjust="spacing">Riostream.h</text>
<text x="498.25" y="110.75" textLength="101.94" lengthAdjust="spacing">TGeoCache.h</text>
<text x="35.0" y="151.75" textLength="159.13" lengthAdjust="spacing">TVirtualGeoPainter.h</text>
<text x="535.5" y="151.75">TSystem.h</text>
<text x="482.75" y="192.75">TTimer.h</text>
<text x="568.5" y="192.75" textLength="60.12" lengthAdjust="spacing">G__ci.h</text>
<text x="315.75" y="233.75">TGeoNode.h</text>
<text x="450.3" y="233.75" textLength="135.17" lengthAdjust="spacing">TSysEvtHandler.h</text>
<text x="267.5" y="274.75" textLength="155.18" lengthAdjust="spacing">TGeoPatternFinder.h</text>
<text x="475.75" y="274.75" textLength="84.65" lengthAdjust="spacing">TQObject.h</text>
<text x="300.0" y="315.75" textLength="112.88" lengthAdjust="spacing">TGeoVolume.h</text>
<text x="479.25" y="315.75">TQClass.h</text>
<text x="599.5" y="315.75" textLength="104.58" lengthAdjust="spacing">TGeoMatrix.h</text>
<text x="37.0" y="356.75">TGeoVoxelFinder.h</text>
<text x="202.5" y="356.75">TGeoAtt.h</text>
<text x="303.0" y="356.75" textLength="118.21" lengthAdjust="spacing">TGeoMedium.h</text>
<text x="517.5" y="356.75" textLength="62.09" lengthAdjust="spacing">TClass.h</text>
<text x="185.0" y="397.75" textLength="118.15" lengthAdjust="spacing">TGeoMaterial.h</text>
<text x="323.75" y="397.75" textLength="100.13" lengthAdjust="spacing">TGeoShape.h</text>
<text x="458.0" y="397.75" textLength="101.94" lengthAdjust="spacing">TDictionary.h</text>
<text x="661.5" y="397.75" textLength="69.84" lengthAdjust="spacing">TROOT.h</text>
<text x="58.25" y="439.65">TGeoElement.h</text>
<text x="191.5" y="439.65" textLength="192.42" lengthAdjust="spacing">geom/inc/TGeoElement.h</text>
<text x="422.25" y="439.65" textLength="75.16" lengthAdjust="spacing">Property.h</text>
<text x="519.5" y="439.65" textLength="121.33" lengthAdjust="spacing">TStreamerInfo.h</text>
<text x="662.0" y="439.65" textLength="94.15" lengthAdjust="spacing">TDirectory.h</text>
<text x="49.3" y="480.65" textLength="69.86" lengthAdjust="spacing">TAttFill.h</text>
<text x="137.8" y="480.65">TAttLine.h</text>
<text x="236.2" y="480.65">TAttMarker.h</text>
<text x="352.75" y="480.65">TObjArray.h</text>
<text x="470.5" y="480.65">TNamed.h</text>
<text x="48.0" y="521.65" textLength="65.99" lengthAdjust="spacing">Gtypes.h</text>
<text x="561.15" y="521.65">TDatime.h</text>
<text x="658.0" y="521.65" textLength="50.17" lengthAdjust="spacing">TList.h</text>
<text x="36.25" y="562.65" textLength="66.92" lengthAdjust="spacing">TAtt3D.h</text>
<text x="229.9" y="562.65" textLength="66.79" lengthAdjust="spacing">Htypes.h</text>
<text x="317.1" y="562.65" textLength="129.04" lengthAdjust="spacing">TSeqCollection.h</text>
<text x="323.9" y="603.65" textLength="101.65" lengthAdjust="spacing">TCollection.h</text>
<text x="449.2" y="603.65" textLength="113.21" lengthAdjust="spacing">TInetAddress.h</text>
<text x="693.5" y="603.65" textLength="71.13" lengthAdjust="spacing">TUUID.h</text>
<text x="242.55" y="644.65">TObject.h</text>
<text x="335.85" y="644.65">TIterator.h</text>
<text x="446.45" y="644.65">TString.h</text>
<text x="69.8" y="685.65" textLength="77.33" lengthAdjust="spacing">Riosfwd.h</text>
<text x="165.2" y="685.65">TBuffer.h</text>
<text x="253.8" y="685.65">TStorage.h</text>
<text x="401.4" y="685.65">Varargs.h</text>
<text x="27.35" y="726.65">TTime.h</text>
<text x="197.1" y="726.65">Bytes.h</text>
<text x="354.45" y="726.65">TRefCnt.h</text>
<text x="448.6" y="726.65" textLength="63.43" lengthAdjust="spacing">TMath.h</text>
<text x="182.1" y="767.65" textLength="86.61" lengthAdjust="spacing">Byteswap.h</text>
<text x="310.7" y="767.65" textLength="65.92" lengthAdjust="spacing">Rtypes.h</text>
<text x="113.2" y="808.65" textLength="153.09" lengthAdjust="spacing">TGenericClassInfo.h</text>
<text x="284.1" y="808.65" textLength="88.91" lengthAdjust="spacing">DllImport.h</text>
<text x="391.0" y="808.65" textLength="88.25" lengthAdjust="spacing">Rtypeinfo.h</text>
<text x="342.4" y="849.65" textLength="78.1" lengthAdjust="spacing">RConfig.h</text>
<text x="340.6" y="890.65" textLength="82.28" lengthAdjust="spacing">RVersion.h</text>
</svg></body></html>
